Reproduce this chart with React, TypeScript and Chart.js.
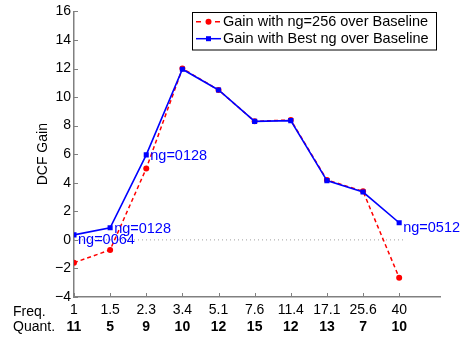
import React, { useEffect, useRef } from 'react';
import { Chart, registerables } from 'chart.js';

Chart.register(...registerables);

// ---- data ----
const freqLabels = ['1', '1.5', '2.3', '3.4', '5.1', '7.6', '11.4', '17.1', '25.6', '40'];
const quantLabels = ['11', '5', '9', '10', '12', '15', '12', '13', '7', '10'];
const gainNg256 = [-1.6, -0.7, 5.0, 12.0, 10.5, 8.3, 8.4, 4.2, 3.4, -2.65];
const gainBestNg = [0.35, 0.85, 5.95, 11.95, 10.5, 8.3, 8.35, 4.15, 3.35, 1.2];
const bestNgIndex = [0, 1, 2, 9];
const bestNgText = ['ng=0064', 'ng=0128', 'ng=0128', 'ng=0512'];
const bestNgOffsetY = [4, 0, 0, 4];
const yTicks = [-4, -2, 0, 2, 4, 6, 8, 10, 12, 14, 16];
const seriesNames = ['Gain with ng=256 over Baseline', 'Gain with Best ng over Baseline'];
const rowNames = ['Freq.', 'Quant.'];
const yTitle = 'DCF Gain';
const zeroLineX = [0, 9.15];

const FONT = '"Liberation Sans", Arial, Helvetica, sans-serif';
const AXIS = '#808080';
const RED = '#ff0000';
const BLUE = '#0000ff';

const decor = {
  id: 'decor',
  beforeDatasetsDraw(chart: any) {
    const { ctx, chartArea, scales } = chart;
    const x = scales.x;
    const y = scales.y;
    ctx.save();
    ctx.strokeStyle = AXIS;
    ctx.lineWidth = 1;
    ctx.beginPath();
    yTicks.forEach((v) => {
      const py = Math.round(y.getPixelForValue(v)) + 0.5;
      ctx.moveTo(chartArea.left, py);
      ctx.lineTo(chartArea.left + 4, py);
    });
    freqLabels.forEach((_, i) => {
      const px = Math.round(x.getPixelForValue(i)) + 0.5;
      ctx.moveTo(px, chartArea.bottom);
      ctx.lineTo(px, chartArea.bottom - 4);
    });
    ctx.stroke();
    ctx.restore();
  },
  afterDraw(chart: any) {
    const { ctx, chartArea, scales } = chart;
    const x = scales.x;
    const y = scales.y;
    ctx.save();

    // annotations
    ctx.fillStyle = BLUE;
    ctx.font = `14.5px ${FONT}`;
    ctx.textAlign = 'left';
    ctx.textBaseline = 'alphabetic';
    bestNgIndex.forEach((idx, k) => {
      const px = x.getPixelForValue(idx);
      const py = y.getPixelForValue(gainBestNg[idx]);
      ctx.fillText(bestNgText[k], px + 4, py + bestNgOffsetY[k] + 5);
    });

    // quant row
    ctx.fillStyle = '#000';
    ctx.font = `bold 14px ${FONT}`;
    ctx.textAlign = 'center';
    ctx.textBaseline = 'middle';
    quantLabels.forEach((q, i) => {
      ctx.fillText(q, x.getPixelForValue(i), 327);
    });

    // row names
    ctx.font = `14px ${FONT}`;
    ctx.textAlign = 'left';
    ctx.fillText(rowNames[0], 13, 312);
    ctx.fillText(rowNames[1], 13, 327);

    // y title
    ctx.save();
    ctx.translate(43, (chartArea.top + chartArea.bottom) / 2);
    ctx.rotate(-Math.PI / 2);
    ctx.textAlign = 'center';
    ctx.textBaseline = 'middle';
    ctx.fillText(yTitle, 0, 0);
    ctx.restore();

    // legend
    const lx = 192.5, ly = 12.5, lw = 244, lh = 37.5;
    ctx.fillStyle = '#fff';
    ctx.fillRect(lx, ly, lw, lh);
    ctx.strokeStyle = '#000';
    ctx.lineWidth = 1;
    ctx.strokeRect(lx, ly, lw, lh);
    const r1 = 21.7, r2 = 38.7;
    // red sample
    ctx.strokeStyle = RED;
    ctx.lineWidth = 1.5;
    ctx.beginPath();
    ctx.moveTo(196, r1); ctx.lineTo(201, r1);
    ctx.moveTo(215, r1); ctx.lineTo(220, r1);
    ctx.stroke();
    ctx.fillStyle = RED;
    ctx.beginPath();
    ctx.arc(208.5, r1, 3, 0, Math.PI * 2);
    ctx.fill();
    // blue sample
    ctx.strokeStyle = BLUE;
    ctx.beginPath();
    ctx.moveTo(196, r2); ctx.lineTo(221, r2);
    ctx.stroke();
    ctx.fillStyle = BLUE;
    ctx.fillRect(206, r2 - 2.5, 5, 5);
    // texts
    ctx.fillStyle = '#000';
    ctx.font = `14.5px ${FONT}`;
    ctx.textAlign = 'left';
    ctx.textBaseline = 'middle';
    ctx.fillText(seriesNames[0], 223, r1);
    ctx.fillText(seriesNames[1], 223, r2);

    ctx.restore();
  },
};

export default function App() {
  const ref = useRef<HTMLCanvasElement>(null);
  useEffect(() => {
    document.body.style.margin = '0';
    const canvas = ref.current;
    if (!canvas) return;
    const chart = new Chart(canvas, {
      type: 'line',
      data: {
        datasets: [
          {
            label: seriesNames[1],
            data: gainBestNg.map((v, i) => ({ x: i, y: v })),
            borderColor: BLUE,
            backgroundColor: BLUE,
            borderWidth: 1.6,
            pointStyle: 'rect',
            pointRadius: 3.6,
            pointBorderWidth: 0,
            order: 1,
          },
          {
            label: seriesNames[0],
            data: gainNg256.map((v, i) => ({ x: i, y: v })),
            borderColor: RED,
            backgroundColor: RED,
            borderWidth: 1.5,
            borderDash: [4, 3],
            pointStyle: 'circle',
            pointRadius: 3,
            pointBorderWidth: 0,
            order: 2,
          },
          {
            label: 'zero',
            data: zeroLineX.map((v) => ({ x: v, y: 0 })),
            borderColor: '#a0a0a0',
            borderWidth: 1,
            borderDash: [1, 3],
            pointRadius: 0,
            order: 3,
          },
        ],
      },
      options: {
        animation: false,
        responsive: false,
        devicePixelRatio: 1,
        layout: { padding: { top: 9.7, right: 22, bottom: 0, left: 0 } },
        plugins: { legend: { display: false }, tooltip: { enabled: false } },
        scales: {
          x: {
            type: 'linear',
            min: 0,
            max: 10.13,
            afterBuildTicks: (s: any) => {
              s.ticks = freqLabels.map((_, i) => ({ value: i }));
            },
            afterFit: (s: any) => {
              s.height = 44;
            },
            ticks: {
              autoSkip: false,
              maxRotation: 0,
              minRotation: 0,
              padding: 5,
              color: '#000',
              font: { family: FONT, size: 14 },
              callback: (v: any) => freqLabels[v] ?? '',
            },
            grid: { display: false, drawTicks: false, tickLength: 0 },
            border: { display: true, color: AXIS, width: 1.5 },
          },
          y: {
            type: 'linear',
            min: -4,
            max: 16,
            afterBuildTicks: (s: any) => {
              s.ticks = yTicks.map((v) => ({ value: v }));
            },
            afterFit: (s: any) => {
              s.width = 74;
            },
            ticks: {
              padding: 3,
              color: '#000',
              font: { family: FONT, size: 14 },
              callback: (v: any) => String(v).replace('-', '\u2212'),
            },
            grid: { display: false, drawTicks: false, tickLength: 0 },
            border: { display: true, color: AXIS, width: 1.5 },
          },
        },
      },
      plugins: [decor],
    });
    return () => chart.destroy();
  }, []);
  return (
    <div style={{ position: 'absolute', left: 0, top: 0, width: 462, height: 341, background: '#fff' }}>
      <canvas ref={ref} width={462} height={341} />
    </div>
  );
}
